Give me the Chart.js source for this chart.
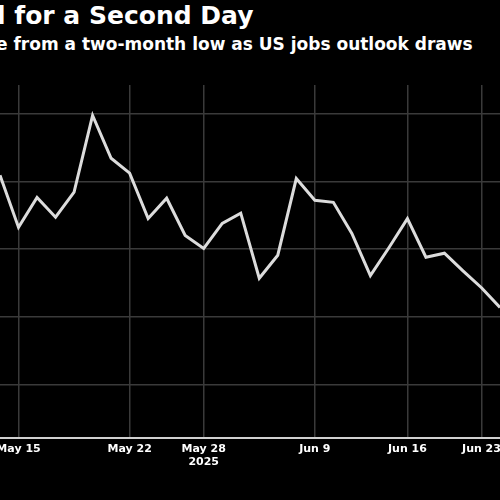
<!DOCTYPE html>
<html>
<head>
<meta charset="utf-8">
<script src="https://cdn.jsdelivr.net/npm/chart.js@4"></script>
<style>
  body { margin: 0; background: #000; width: 500px; height: 500px; overflow: hidden; position: relative; font-family: "DejaVu Sans", sans-serif; }
  #titulo { position: absolute; top: 1px; left: -3px; color: #fff; font-size: 25px; font-weight: bold; white-space: nowrap; }
  #subtitulo { position: absolute; top: 34px; left: -4px; color: #fff; font-size: 17px; font-weight: bold; white-space: nowrap; }
  #wrap { position: absolute; top: 0; left: 0; width: 500px; height: 500px; }
</style>
</head>
<body>
<div id="titulo">l for a Second Day</div>
<div id="subtitulo">e from a two-month low as US jobs outlook draws</div>
<div id="wrap"><canvas id="grafico"></canvas></div>
<script>
// Datos
const fechas = ['May 14','May 15','May 16','May 19','May 20','May 21','May 22','May 23','May 26','May 27',
                'May 27b','May 28','May 29','May 30','Jun 2','Jun 3','Jun 4','Jun 9','Jun 5','Jun 6',
                'Jun 10','Jun 11','Jun 16','Jun 12','Jun 13','Jun 17','Jun 23','Jun 24'];
const valores = [4.09, 3.32, 3.76, 3.47, 3.84, 4.97, 4.34, 4.12, 3.45, 3.75,
                 3.20, 3.01, 3.38, 3.53, 2.57, 2.91, 4.04, 3.72, 3.69, 3.23,
                 2.61, 3.02, 3.45, 2.88, 2.94, 2.68, 2.43, 2.14];
// Etiquetas visibles del eje X (indice -> texto)
const etiquetas = { 1: 'May 15', 7: 'May 22', 11: ['May 28', '2025'], 17: 'Jun 9', 22: 'Jun 16', 26: 'Jun 23' };
const ticksY = [1, 2, 3, 4, 5];

const ctx = document.getElementById('grafico').getContext('2d');
new Chart(ctx, {
    type: 'line',
    data: {
        labels: fechas,
        datasets: [{
            data: valores,
            borderColor: '#dcdcdc',
            borderWidth: 3,
            pointRadius: 0,
            tension: 0
        }]
    },
    options: {
        responsive: true,
        maintainAspectRatio: false,
        animation: false,
        layout: { padding: { top: 85, left: 0, right: 0, bottom: 26 } },
        plugins: { legend: { display: false }, tooltip: { enabled: false } },
        scales: {
            x: {
                offset: false,
                afterFit: axis => { axis.paddingLeft = 0; axis.paddingRight = 0; },
                grid: {
                    color: ctx => (ctx.tick && etiquetas[ctx.index] !== undefined) ? '#3a3a3a' : 'rgba(0,0,0,0)',
                    lineWidth: 1.5,
                    drawTicks: false
                },
                border: { color: '#d0d0d0', width: 2 },
                ticks: {
                    autoSkip: false,
                    maxRotation: 0,
                    padding: 5,
                    color: '#ffffff',
                    font: { size: 11, family: 'DejaVu Sans', weight: 'bold' },
                    callback: function(val, i) { return etiquetas[i] !== undefined ? etiquetas[i] : ''; }
                }
            },
            y: {
                min: 0.22,
                max: 5.42,
                afterFit: axis => { axis.width = 0; },
                afterBuildTicks: axis => { axis.ticks = ticksY.map(v => ({ value: v })); },
                grid: { color: '#3a3a3a', lineWidth: 1.5, drawTicks: false },
                border: { display: false },
                ticks: { display: false }
            }
        }
    }
});
</script>
</body>
</html>
